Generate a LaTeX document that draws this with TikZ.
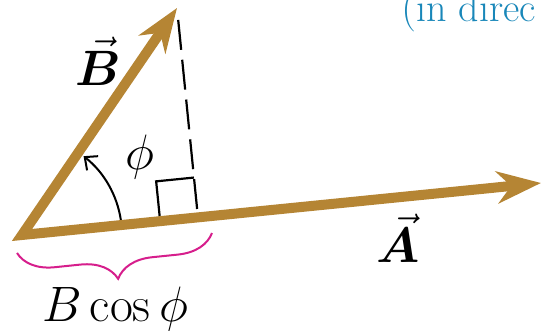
\documentclass[tikz,border=0pt]{standalone}
\usepackage{bm}
\usetikzlibrary{arrows.meta,calc,decorations.pathreplacing}
\definecolor{vecbrown}{RGB}{181,133,52}
\definecolor{bracepink}{RGB}{214,30,140}
\definecolor{noteblue}{RGB}{25,135,185}
\begin{document}
\begin{tikzpicture}[
    x=0.5pt, y=0.5pt,
    vecpair/.style={draw=vecbrown, line width=5pt, line join=miter,
      {Stealth[length=22pt, width=16pt, inset=7pt]}-{Stealth[length=22pt, width=16pt, inset=7pt]}},
    helper/.style={draw=black, line width=1.1pt},
    anglearc/.style={draw=black, line width=1pt, -{Straight Barb[length=5pt, width=9pt]}},
    veclabel/.style={font=\fontsize{23}{26}\selectfont},
    every node/.style={inner sep=0pt}
]
  % frame (clip as the reference is cut at the edges)
  \useasboundingbox (0,0) rectangle (543,331);
  \clip (0,0) rectangle (543,331);

  % points
  \coordinate (O)  at (22,96);
  \coordinate (Bt) at (177,323);
  \coordinate (At) at (541,148);
  \coordinate (F)  at ($(O)!(Bt)!(At)$);
  \coordinate (P1) at ($(F)!19pt!(O)$);
  \coordinate (Q1) at ($(P1)!20pt!90:(F)$);
  \coordinate (Q2) at ($(F)!20pt!-90:(O)$);

  % projection and right angle
  \draw[helper, dash pattern=on 15pt off 5pt] ($(Bt)!6pt!(F)$) -- (F);
  \draw[helper] (P1) -- (Q1) -- (Q2);

  % angle
  \draw[anglearc] ($(O)+(8.5:100)$) arc[start angle=8.5, end angle=52, radius=100];
  \node[veclabel] (phi) at (140,174) {$\phi$};

  % vectors
  \draw[vecpair] (Bt) -- (O) -- (At);
  \node[veclabel] (Blbl) at (98,270) {$\vec{\bm{B}}$};
  \node[veclabel] (Albl) at (398,93) {$\vec{\bm{A}}$};

  % component
  \coordinate (br1) at (17,78);
  \coordinate (br2) at (212,98);
  \draw[draw=bracepink, line width=1pt,
    decorate, decoration={brace, mirror, amplitude=18pt}] (br1) -- (br2);
  \node[veclabel] (comp) at (115,22) {$B\cos\phi$};

  % cut-off note
  \node[anchor=base west, text=noteblue, font=\fontsize{20}{22}\selectfont]
    (note) at (401,309) {$\bigl($in direc};
\end{tikzpicture}
\end{document}
